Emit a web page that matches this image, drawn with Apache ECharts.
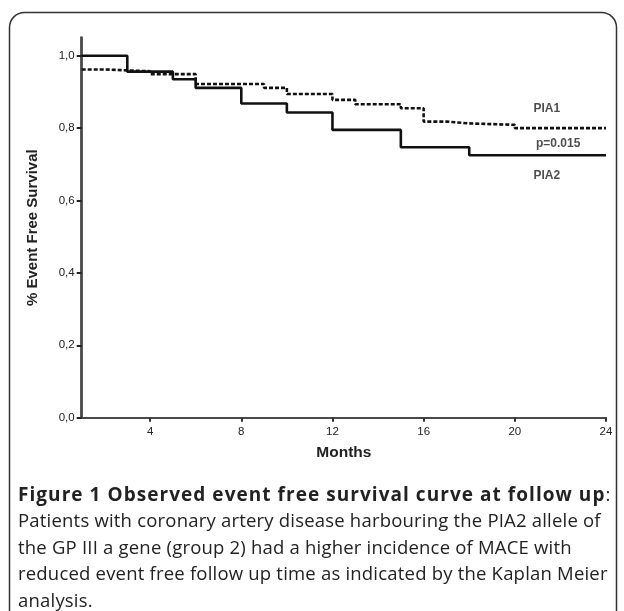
<!DOCTYPE html>
<html>
<head>
<meta charset="utf-8">
<script src="https://cdn.jsdelivr.net/npm/echarts@6/dist/echarts.min.js"></script>
<style>
html,body{margin:0;padding:0;background:#fff;}
#wrap{position:relative;width:624px;height:611px;overflow:hidden;}
#chart{position:absolute;left:0;top:0;width:624px;height:611px;}
#caption{position:absolute;left:18px;top:481px;width:606px;font-family:"Open Sans",sans-serif;font-size:18.5px;line-height:26.4px;color:#222;white-space:nowrap;letter-spacing:0.2px;}
#caption b{font-weight:700;font-size:19px;letter-spacing:1.05px;}
</style>
</head>
<body>
<div id="wrap">
<div id="chart"></div>
<div id="caption"><b>Figure 1 Observed event free survival curve at follow up</b>:<br>Patients with coronary artery disease harbouring the PIA2 allele of<br>the GP III a gene (group 2) had a higher incidence of MACE with<br>reduced event free follow up time as indicated by the Kaplan Meier<br>analysis.</div>
</div>
<script>
// Months at which the survival estimate changes, and the estimate from that month on
var pia2Months = [1, 3, 5, 6, 8, 10, 12, 15, 18, 24];
var pia2Survival = [1.0, 0.956, 0.935, 0.911, 0.868, 0.843, 0.795, 0.747, 0.725, 0.725];
var pia1Months = [1, 2, 4, 6, 9, 10, 12, 13, 15, 16, 17, 18, 20, 24];
var pia1Survival = [0.962, 0.957, 0.949, 0.922, 0.911, 0.894, 0.878, 0.866, 0.855, 0.818, 0.813, 0.809, 0.800, 0.800];
var xTicks = [4, 8, 12, 16, 20, 24];
var yTicks = [0, 0.2, 0.4, 0.6, 0.8, 1.0];
var labels = [
  {text: 'PIA1', month: 21.4, value: 0.853},
  {text: 'p=0.015', month: 21.9, value: 0.758},
  {text: 'PIA2', month: 21.4, value: 0.668}
];

function pairs(xs, ys) { return xs.map(function (x, i) { return [x, ys[i]]; }); }

var chart = echarts.init(document.getElementById('chart'), null, {renderer: 'canvas'});
var font = '"Liberation Sans", Arial, sans-serif';
chart.setOption({
  animation: false,
  graphic: [{
    type: 'rect',
    shape: {x: 9.5, y: 12.5, width: 607, height: 640, r: [15, 15, 0, 0]},
    style: {fill: 'none', stroke: '#333', lineWidth: 1.5},
    z: -1
  }],
  grid: {left: 81.7, right: 18, top: 37.6, bottom: 193.3},
  xAxis: {
    type: 'value', min: 1, max: 24,
    name: 'Months', nameLocation: 'middle', nameGap: 27,
    nameTextStyle: {fontFamily: font, fontWeight: 'bold', fontSize: 15.5, color: '#222'},
    axisLine: {lineStyle: {color: '#4a4a4a', width: 2.2}},
    axisTick: {customValues: xTicks, length: 4, lineStyle: {color: '#333', width: 2}},
    axisLabel: {customValues: xTicks, margin: 8, fontFamily: font, fontSize: 11.5, color: '#222'},
    splitLine: {show: false}
  },
  yAxis: {
    type: 'value', min: 0, max: 1.05,
    name: '% Event Free Survival', nameLocation: 'middle', nameGap: 41,
    nameTextStyle: {fontFamily: font, fontWeight: 'bold', fontSize: 15, color: '#222'},
    axisLine: {show: true, lineStyle: {color: '#4a4a4a', width: 2.8}},
    axisTick: {show: true, customValues: yTicks, length: 5, lineStyle: {color: '#222', width: 2}},
    axisLabel: {customValues: yTicks, margin: 7, fontFamily: font, fontSize: 11.5, color: '#222',
      formatter: function (v) { return v.toFixed(1).replace('.', ','); }},
    splitLine: {show: false}
  },
  series: [
    {
      name: 'PIA1', type: 'line', step: 'end', symbol: 'none',
      data: pairs(pia1Months, pia1Survival),
      lineStyle: {color: '#111', width: 2.6, type: [4, 2]}
    },
    {
      name: 'PIA2', type: 'line', step: 'end', symbol: 'none',
      data: pairs(pia2Months, pia2Survival),
      lineStyle: {color: '#111', width: 2.6, type: 'solid'}
    },
    {
      name: 'labels', type: 'scatter', symbolSize: 0,
      data: labels.map(function (l) { return {value: [l.month, l.value], label: {formatter: l.text}}; }),
      label: {show: true, position: 'inside', fontFamily: font, fontWeight: 'bold', fontSize: 12, color: '#222'},
      silent: true
    }
  ]
});
</script>
</body>
</html>
